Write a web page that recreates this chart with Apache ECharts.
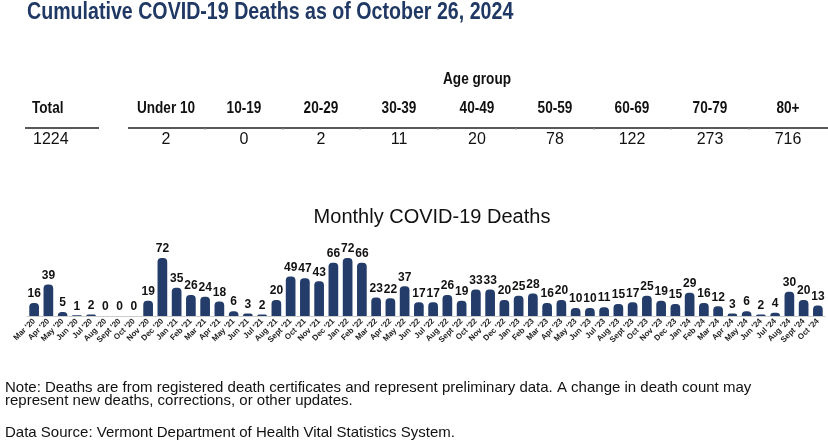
<!DOCTYPE html>
<html>
<head>
<meta charset="utf-8">
<script src="https://cdn.jsdelivr.net/npm/echarts@6/dist/echarts.min.js"></script>
<style>
   html, body { margin: 0; padding: 0; background: #fff; }
   #chart { width: 828px; height: 445px; }
</style>
</head>
<body>
<div id="chart"></div>
<script>
// summary table
const ageGroups = ['Under 10', '10-19', '20-29', '30-39', '40-49', '50-59', '60-69', '70-79', '80+'];
const ageDeaths = [2, 0, 2, 11, 20, 78, 122, 273, 716];
const totalDeaths = 1224;

// monthly bars
const months = [
   "Mar '20", "Apr '20", "May '20", "Jun '20", "Jul '20", "Aug '20", "Sept '20", "Oct '20", "Nov '20", "Dec '20",
   "Jan '21", "Feb '21", "Mar '21", "Apr '21", "May '21", "Jun '21", "Jul '21", "Aug '21", "Sept '21", "Oct '21", "Nov '21", "Dec '21",
   "Jan '22", "Feb '22", "Mar '22", "Apr '22", "May '22", "Jun '22", "Jul '22", "Aug '22", "Sept '22", "Oct '22", "Nov '22", "Dec '22",
   "Jan '23", "Feb '23", "Mar '23", "Apr '23", "May '23", "Jun '23", "Jul '23", "Aug '23", "Sept '23", "Oct '23", "Nov '23", "Dec '23",
   "Jan '24", "Feb '24", "Mar '24", "Apr '24", "May '24", "Jun '24", "Jul '24", "Aug '24", "Sept '24", "Oct '24"
];
const monthlyDeaths = [
   16, 39, 5, 1, 2, 0, 0, 0, 19, 72,
   35, 26, 24, 18, 6, 3, 2, 20, 49, 47, 43, 66,
   72, 66, 23, 22, 37, 17, 17, 26, 19, 33, 33, 20,
   25, 28, 16, 20, 10, 10, 11, 15, 17, 25, 19, 15,
   29, 16, 12, 3, 6, 2, 4, 30, 20, 13
];

const FONT = "'Liberation Sans', Arial, sans-serif";
const NAVY = '#243c6a';

const colX = [166, 244, 321, 399, 477, 555, 632, 710, 788];

// little helper, narrow fonts are not installed so squeeze the text a bit
function txt(x, y, text, font, opts) {
   opts = opts || {};
   return {
      type: 'text', x: x, y: y,
      scaleX: opts.sx || 1,
      style: {
         text: text, font: font, fill: opts.fill || '#111',
         align: opts.align || 'left', verticalAlign: opts.va || 'middle'
      }
   };
}

let graphics = [];
graphics.push(txt(27, 1, 'Cumulative COVID-19 Deaths as of October 26, 2024', 'bold 23px ' + FONT,
   { fill: '#1f3864', va: 'top', sx: 0.853 }));
graphics.push(txt(477, 80, 'Age group', 'bold 16px ' + FONT, { align: 'center', sx: 0.85 }));
graphics.push(txt(32, 109, 'Total', 'bold 16px ' + FONT, { sx: 0.85 }));
graphics.push(txt(33, 140, String(totalDeaths), '16px ' + FONT, { sx: 1 }));
graphics.push({ type: 'line', shape: { x1: 25, y1: 128, x2: 99, y2: 128 }, style: { stroke: '#222', lineWidth: 1.3 } });
graphics.push({ type: 'line', shape: { x1: 128, y1: 128, x2: 828, y2: 128 }, style: { stroke: '#222', lineWidth: 1.3 } });
ageGroups.forEach((g, i) => {
   graphics.push(txt(colX[i], 109, g, 'bold 16px ' + FONT, { align: 'center', sx: 0.85 }));
   graphics.push(txt(colX[i], 140, String(ageDeaths[i]), '16px ' + FONT, { align: 'center' }));
   if (i > 0) {
      const tx = Math.round((colX[i - 1] + colX[i]) / 2);
      graphics.push({ type: 'line', shape: { x1: tx, y1: 128, x2: tx, y2: 130 }, style: { stroke: '#999', lineWidth: 1 } });
   }
});
graphics.push(txt(432, 217, 'Monthly COVID-19 Deaths', '20px ' + FONT, { align: 'center' }));
graphics.push(txt(5, 380, 'Note: Deaths are from registered death certificates and represent preliminary data. A change in death count may', '15px ' + FONT, { va: 'top' }));
graphics.push(txt(5, 393, 'represent new deaths, corrections, or other updates.', '15px ' + FONT, { va: 'top' }));
graphics.push(txt(5, 425, 'Data Source: Vermont Department of Health Vital Statistics System.', '15px ' + FONT, { va: 'top' }));

const chart = echarts.init(document.getElementById('chart'), null, { renderer: 'canvas' });
chart.setOption({
   animation: false,
   backgroundColor: '#fff',
   graphic: graphics,
   grid: { left: 27, right: 3, top: 258, bottom: 129 },
   xAxis: {
      type: 'category',
      data: months,
      axisLine: { lineStyle: { color: '#cccccc', width: 1 } },
      axisTick: { show: false },
      axisLabel: {
         interval: 0, rotate: 45, fontSize: 8, fontWeight: 'bold',
         fontFamily: FONT, color: '#222', margin: 4
      }
   },
   yAxis: {
      type: 'value', min: 0, max: 72,
      show: false,
      splitLine: { show: false }
   },
   series: [{
      type: 'bar',
      data: monthlyDeaths,
      barWidth: '68%',
      itemStyle: { color: NAVY, borderRadius: [4, 4, 0, 0] },
      label: {
         show: true, position: 'top', distance: 3,
         fontSize: 12, fontWeight: 'bold', fontFamily: FONT, color: '#111'
      }
   }]
});
</script>
</body>
</html>
